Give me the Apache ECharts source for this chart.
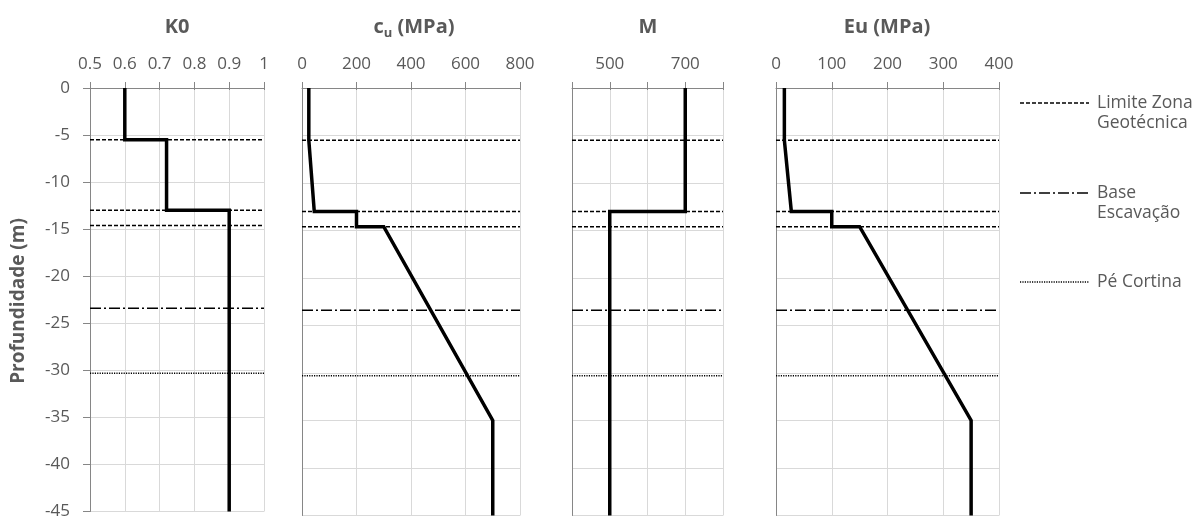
<!DOCTYPE html>
<html>
<head>
<meta charset="utf-8">
<script src="https://cdn.jsdelivr.net/npm/echarts@6/dist/echarts.min.js"></script>
<style>
  html, body { margin: 0; padding: 0; background: #fff; }
  #chart { width: 1197px; height: 520px; }
</style>
</head>
<body>
<div id="chart"></div>
<script>
// Soil profile parameters vs depth (m)
const k0Values   = [0.6, 0.6, 0.72, 0.72, 0.9, 0.9];
const k0Depth    = [0, -5.5, -5.5, -13, -13, -45];

const cuValues   = [25, 25, 30, 45, 200, 200, 300, 700, 700];
const cuDepth    = [0, -5.5, -5.5, -13, -13, -14.6, -14.6, -35, -45];

const mValues    = [700, 700, 500, 500];
const mDepth     = [0, -13, -13, -45];

const euValues   = [15, 15, 17.5, 27.5, 100, 100, 150, 350, 350];
const euDepth    = [0, -5.5, -5.5, -13, -13, -14.6, -14.6, -35, -45];

// Reference depths (m)
const zoneLimits = [-5.5, -13, -14.6];   // Limite Zona Geotécnica
const baseDepth  = -23.4;                 // Base Escavação
const toeDepth   = -30.3;                 // Pé Cortina

// Axis tick settings
const k0Range = [0.5, 1, 0.1];
const cuRange = [0, 800, 200];
const mRange  = [400, 800, 100];
const mTickLabels = [500, 700];
const euRange = [0, 400, 100];
const depthRange = [-45, 0, 5];

const FONT = '"Open Sans", "Noto Sans", sans-serif';
const TXT = '#595959';
const AXIS = '#868686';
const GRID = '#d9d9d9';

const panels = [
  { range: k0Range, x: k0Values, d: k0Depth, fmt: v => String(+v.toFixed(1)) },
  { range: cuRange, x: cuValues, d: cuDepth, fmt: v => String(v) },
  { range: mRange,  x: mValues,  d: mDepth,  fmt: v => mTickLabels.indexOf(Math.round(v)) >= 0 ? String(Math.round(v)) : '' },
  { range: euRange, x: euValues, d: euDepth, fmt: v => String(v) }
];
const frames = [
  { left: 90,  width: 174 },
  { left: 302, width: 218 },
  { left: 572, width: 151 },
  { left: 776, width: 223 }
];

const grid = [], xAxis = [], yAxis = [], series = [];

panels.forEach((p, i) => {
  grid.push({ left: frames[i].left, width: frames[i].width, top: 88, bottom: 4.5 });
  const xCommon = {
    gridIndex: i, type: 'value', position: 'top',
    min: p.range[0], max: p.range[1], interval: p.range[2]
  };
  // top axis with outward ticks and labels
  xAxis.push(Object.assign({}, xCommon, {
    axisLine: { show: true, onZero: false, lineStyle: { color: AXIS, width: 1 } },
    axisTick: { show: true, length: 6, lineStyle: { color: AXIS } },
    axisLabel: { show: true, margin: 15, fontSize: 17, fontFamily: FONT, color: TXT,
                 showMinLabel: true, showMaxLabel: true, formatter: p.fmt },
    splitLine: { show: true, lineStyle: { color: GRID, width: 1 } }
  }));
  // companion axis giving the short inward half of the crossing ticks
  xAxis.push(Object.assign({}, xCommon, {
    offset: 0,
    axisLine: { show: false, onZero: false },
    axisTick: { show: true, inside: true, length: 2, lineStyle: { color: AXIS } },
    axisLabel: { show: false },
    splitLine: { show: false }
  }));
  yAxis.push({
    gridIndex: i, type: 'value',
    min: depthRange[0], max: depthRange[1], interval: depthRange[2],
    axisLine: { show: true, onZero: false, lineStyle: { color: AXIS, width: 1 } },
    axisTick: { show: i === 0, length: 7, lineStyle: { color: AXIS } },
    axisLabel: { show: i === 0, margin: 20, fontSize: 17, fontFamily: FONT, color: TXT },
    splitLine: { show: true, lineStyle: { color: GRID, width: 1 } }
  });

  const xIdx = i * 2;
  const xmin = p.range[0], xmax = p.range[1];
  const refLine = (depth, dash, width) => ({
    type: 'line', xAxisIndex: xIdx, yAxisIndex: i, symbol: 'none', silent: true,
    data: [[xmin, depth], [xmax, depth]],
    lineStyle: { color: '#000', width: width, type: dash },
    z: 3
  });
  zoneLimits.forEach(d => series.push(refLine(d, [4, 2], 1.5)));
  series.push(refLine(baseDepth, [11, 3, 2, 3], 1.5));
  series.push(refLine(toeDepth, [1.2, 1.2], 1.5));

  series.push({
    type: 'line', xAxisIndex: xIdx, yAxisIndex: i, symbol: 'none', silent: true,
    data: p.x.map((v, k) => [v, p.d[k]]),
    lineStyle: { color: '#000', width: 3.5, join: 'miter' },
    z: 5
  });
});

const titleStyle = (text, x) => ({
  type: 'text', x: x, y: 27,
  style: { text: text, font: 'bold 20px ' + FONT, fill: TXT, align: 'center', verticalAlign: 'middle' }
});

const legendEntry = (y, text, dash) => ([
  { type: 'line', shape: { x1: 1020, y1: y, x2: 1089, y2: y },
    style: { stroke: '#000', lineWidth: 1.5, lineDash: dash } },
  { type: 'text', x: 1097, y: y - 10,
    style: { text: text, font: '17.5px ' + FONT, fill: TXT, align: 'left', verticalAlign: 'top', lineHeight: 20 } }
]);

const graphic = [
  titleStyle('K0', 177),
  {
    type: 'text', x: 414, y: 27,
    style: {
      text: '{b|c}{s|u}{b| (MPa)}', align: 'center', verticalAlign: 'middle',
      rich: {
        b: { fontSize: 20, fontWeight: 'bold', fontFamily: FONT, fill: TXT, lineHeight: 26 },
        s: { fontSize: 13, fontWeight: 'bold', fontFamily: FONT, fill: TXT, lineHeight: 13, verticalAlign: 'bottom' }
      }
    }
  },
  titleStyle('M', 648),
  titleStyle('Eu (MPa)', 887),
  {
    type: 'text', x: 19, y: 301, rotation: Math.PI / 2,
    style: { text: 'Profundidade (m)', font: 'bold 19px ' + FONT, fill: TXT, align: 'center', verticalAlign: 'middle' }
  }
]
  .concat(legendEntry(103, 'Limite Zona\nGeotécnica', [4, 2]))
  .concat(legendEntry(193, 'Base\nEscavação', [11, 3, 2, 3]))
  .concat(legendEntry(282, 'Pé Cortina', [1.2, 1.2]));

const chart = echarts.init(document.getElementById('chart'), null, { renderer: 'canvas' });
chart.setOption({
  animation: false,
  backgroundColor: '#fff',
  grid: grid,
  xAxis: xAxis,
  yAxis: yAxis,
  series: series,
  graphic: graphic
});
</script>
</body>
</html>
